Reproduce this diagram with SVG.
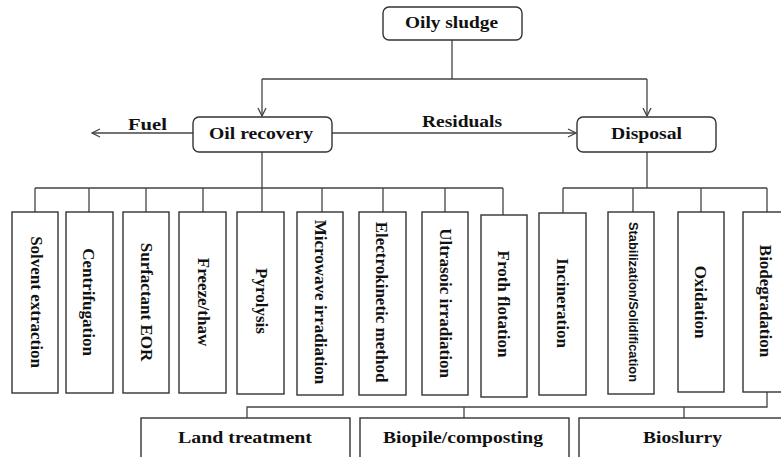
<svg xmlns="http://www.w3.org/2000/svg" width="781" height="457" viewBox="0 0 781 457">
<style>
.box{fill:#fff;stroke:#333;stroke-width:1.4}
.ln{fill:none;stroke:#444;stroke-width:1.3}
.t{font-family:"Liberation Serif","Times New Roman",serif;font-weight:bold;font-size:17px;fill:#111}
.v{font-family:"Liberation Serif","Times New Roman",serif;font-weight:bold;font-size:17px;fill:#111;text-anchor:middle;dominant-baseline:central}
.vs{font-family:"Liberation Sans",Arial,sans-serif;font-weight:bold;font-size:13px;fill:#111;text-anchor:middle;dominant-baseline:central}
</style>
<defs>
<marker id="arr" viewBox="0 0 10 10" refX="9" refY="5" markerWidth="10" markerHeight="10" markerUnits="userSpaceOnUse" orient="auto">
<path d="M1,1 L9,5 L1,9" fill="none" stroke="#444" stroke-width="1.3"/>
</marker>
</defs>
<rect width="781" height="457" fill="#fff"/>
<g id="connectors">
<path class="ln" d="M452,40 V79 M262,79 H647"/>
<path class="ln" d="M262,79 V116" marker-end="url(#arr)"/>
<path class="ln" d="M647,79 V116" marker-end="url(#arr)"/>
<path class="ln" d="M193,133 H92" marker-end="url(#arr)"/>
<path class="ln" d="M332,133 H576" marker-end="url(#arr)"/>
<path class="ln" d="M262,151 V188 M35,188 H503 M35,188 V212 M89,188 V212 M146,188 V212 M203,188 V212 M262,188 V212 M322,188 V212 M383,188 V212 M445,188 V212 M503,188 V215"/>
<path class="ln" d="M647,151 V188 M563,188 H767 M563,188 V213 M633,188 V212 M701,188 V212 M767,188 V212"/>
<path class="ln" d="M767,392 V407 H247 V418 M464,407 V418 M684,407 V418"/>
<text class="t" x="128" y="130" textLength="39" lengthAdjust="spacingAndGlyphs">Fuel</text>
<text class="t" x="422" y="127" textLength="80" lengthAdjust="spacingAndGlyphs">Residuals</text>
</g>
<g id="oily-sludge">
<rect class="box" x="383" y="7" width="139" height="33" rx="6"/>
<text class="t" x="405" y="28" textLength="93" lengthAdjust="spacingAndGlyphs">Oily sludge</text>
</g>
<g id="oil-recovery">
<rect class="box" x="193" y="117" width="139" height="35" rx="6"/>
<text class="t" x="209" y="139" textLength="104" lengthAdjust="spacingAndGlyphs">Oil recovery</text>
</g>
<g id="disposal">
<rect class="box" x="577" y="117" width="139" height="35" rx="6"/>
<text class="t" x="611" y="139" textLength="71" lengthAdjust="spacingAndGlyphs">Disposal</text>
</g>
<g id="solvent-extraction">
<rect class="box" x="12" y="212" width="46" height="181"/>
<text class="v" transform="translate(36,302) rotate(90)">Solvent extraction</text>
</g>
<g id="centrifugation">
<rect class="box" x="66" y="212" width="47" height="181"/>
<text class="v" transform="translate(88,302) rotate(90)">Centrifugation</text>
</g>
<g id="surfactant-eor">
<rect class="box" x="123" y="212" width="46" height="181"/>
<text class="v" transform="translate(146,302) rotate(90)">Surfactant EOR</text>
</g>
<g id="freeze-thaw">
<rect class="box" x="179" y="212" width="47" height="181"/>
<text class="v" transform="translate(203,302) rotate(90)">Freeze/thaw</text>
</g>
<g id="pyrolysis">
<rect class="box" x="237" y="212" width="47" height="182"/>
<text class="v" transform="translate(261,301) rotate(90)">Pyrolysis</text>
</g>
<g id="microwave-irradiation">
<rect class="box" x="297" y="212" width="46" height="183"/>
<text class="v" transform="translate(320,302) rotate(90)">Microwave irradiation</text>
</g>
<g id="electrokinetic-method">
<rect class="box" x="359" y="212" width="47" height="183"/>
<text class="v" transform="translate(381,302) rotate(90)">Electrokinetic method</text>
</g>
<g id="ultrasoic-irradiation">
<rect class="box" x="422" y="212" width="46" height="183"/>
<text class="v" transform="translate(445,303) rotate(90)">Ultrasoic irradiation</text>
</g>
<g id="froth-flotation">
<rect class="box" x="481" y="215" width="46" height="182"/>
<text class="v" transform="translate(503,304) rotate(90)">Froth flotation</text>
</g>
<g id="incineration">
<rect class="box" x="539" y="213" width="47" height="182"/>
<text class="v" transform="translate(562,303) rotate(90)">Incineration</text>
</g>
<g id="stabilization-solidification">
<rect class="box" x="608" y="212" width="46" height="182"/>
<text class="vs" transform="translate(633,302) rotate(90)" textLength="160" lengthAdjust="spacingAndGlyphs">Stabilization/Solidification</text>
</g>
<g id="oxidation">
<rect class="box" x="678" y="212" width="46" height="180"/>
<text class="v" transform="translate(700,302) rotate(90)">Oxidation</text>
</g>
<g id="biodegradation">
<rect class="box" x="743" y="212" width="47" height="180"/>
<text class="v" transform="translate(765,301) rotate(90)">Biodegradation</text>
</g>
<g id="land-treatment">
<rect class="box" x="141" y="418" width="209" height="45"/>
<text class="t" x="178" y="443" textLength="134" lengthAdjust="spacingAndGlyphs">Land treatment</text>
</g>
<g id="biopile-composting">
<rect class="box" x="360" y="418" width="209" height="45"/>
<text class="t" x="383" y="443" textLength="160" lengthAdjust="spacingAndGlyphs">Biopile/composting</text>
</g>
<g id="bioslurry">
<rect class="box" x="579" y="418" width="211" height="45"/>
<text class="t" x="643" y="443" textLength="79" lengthAdjust="spacingAndGlyphs">Bioslurry</text>
</g>
</svg>
